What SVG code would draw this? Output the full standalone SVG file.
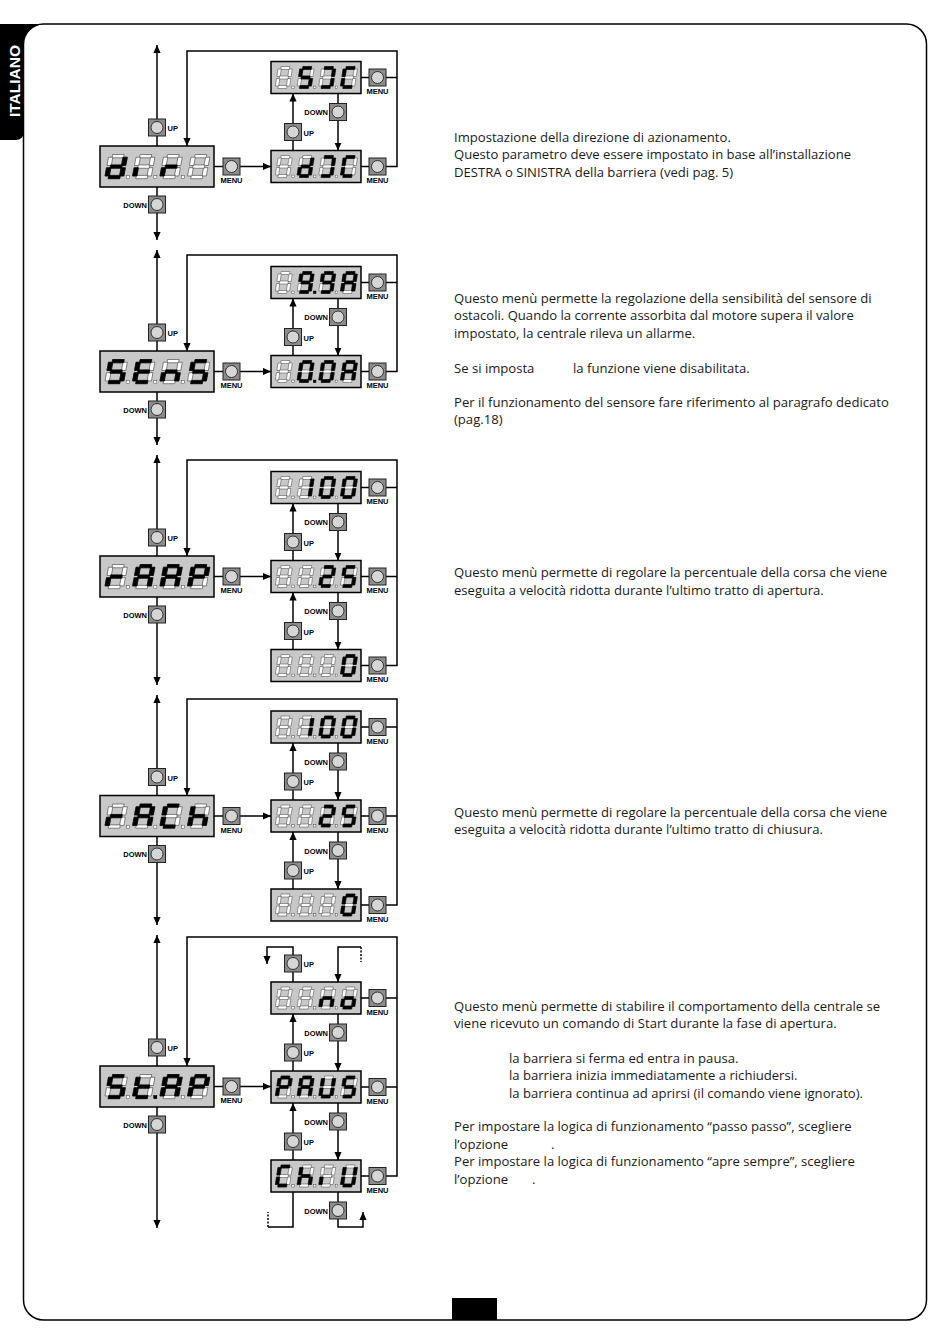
<svg xmlns="http://www.w3.org/2000/svg" xmlns:xlink="http://www.w3.org/1999/xlink" width="950" height="1344" viewBox="0 0 950 1344">
<style>
.ln{fill:none;stroke:#000;stroke-width:1.5}
.ar{fill:none;stroke:#000;stroke-width:1.5;marker-end:url(#ah)}
.ds{fill:none;stroke:#000;stroke-width:1.5;stroke-dasharray:2 1.5}
.disp{fill:#c8c8c8;stroke:#000;stroke-width:1.5}
.bt{fill:#8c8c8c;stroke:#222;stroke-width:1}
.bc{fill:#d6d6d6;stroke:#222;stroke-width:.9}
.lb{font-family:"Liberation Sans",Arial,sans-serif;font-weight:bold;font-size:7.5px;fill:#000}
.mn{text-anchor:middle}
.dn{text-anchor:end}
.tx{font-family:"Open Sans","Liberation Sans",sans-serif;font-size:13.1px;fill:#1a1a1a}
.off{fill:#fff;stroke:#4a4a4a;stroke-width:.5}
.on{fill:#000;stroke:#000;stroke-width:.5}
</style>
<defs>
<marker id="ah" markerUnits="userSpaceOnUse" markerWidth="8" markerHeight="8" viewBox="0 0 8 8" refX="8" refY="4" orient="auto"><path d="M0,0.4 L8,4 L0,7.6 z" fill="#000"/></marker>
<rect id="sa" x="2.5" y="0" width="8" height="3"/>
<rect id="sb" x="10" y="2.5" width="3" height="7.5"/>
<rect id="sc" x="10" y="12" width="3" height="7.5"/>
<rect id="sd" x="2.5" y="19" width="8" height="3"/>
<rect id="se" x="0" y="12" width="3" height="7.5"/>
<rect id="sf" x="0" y="2.5" width="3" height="7.5"/>
<rect id="sg" x="2.5" y="9.5" width="8" height="3"/>
<g id="blank"><use href="#sa" class="off"/><use href="#sb" class="off"/><use href="#sc" class="off"/><use href="#sd" class="off"/><use href="#se" class="off"/><use href="#sf" class="off"/><use href="#sg" class="off"/></g>
<g id="g_" transform="skewX(-8)"><use href="#blank"/></g>
<g id="gd" transform="skewX(-8)"><use href="#blank"/><use href="#sb" class="on"/><use href="#sc" class="on"/><use href="#sd" class="on"/><use href="#se" class="on"/><use href="#sg" class="on"/></g>
<g id="gi" transform="skewX(-8)"><use href="#blank"/><use href="#se" class="on"/></g>
<g id="gr" transform="skewX(-8)"><use href="#blank"/><use href="#se" class="on"/><use href="#sg" class="on"/></g>
<g id="gS" transform="skewX(-8)"><use href="#blank"/><use href="#sa" class="on"/><use href="#sf" class="on"/><use href="#sg" class="on"/><use href="#sc" class="on"/><use href="#sd" class="on"/></g>
<g id="gJ" transform="skewX(-8)"><use href="#blank"/><use href="#sa" class="on"/><use href="#sb" class="on"/><use href="#sc" class="on"/><use href="#sd" class="on"/></g>
<g id="gC" transform="skewX(-8)"><use href="#blank"/><use href="#sa" class="on"/><use href="#sd" class="on"/><use href="#se" class="on"/><use href="#sf" class="on"/></g>
<g id="g9" transform="skewX(-8)"><use href="#blank"/><use href="#sa" class="on"/><use href="#sb" class="on"/><use href="#sc" class="on"/><use href="#sd" class="on"/><use href="#sf" class="on"/><use href="#sg" class="on"/></g>
<g id="gA" transform="skewX(-8)"><use href="#blank"/><use href="#sa" class="on"/><use href="#sb" class="on"/><use href="#sc" class="on"/><use href="#se" class="on"/><use href="#sf" class="on"/><use href="#sg" class="on"/></g>
<g id="g0" transform="skewX(-8)"><use href="#blank"/><use href="#sa" class="on"/><use href="#sb" class="on"/><use href="#sc" class="on"/><use href="#sd" class="on"/><use href="#se" class="on"/><use href="#sf" class="on"/></g>
<g id="g1" transform="skewX(-8)"><use href="#blank"/><use href="#sb" class="on"/><use href="#sc" class="on"/></g>
<g id="g2" transform="skewX(-8)"><use href="#blank"/><use href="#sa" class="on"/><use href="#sb" class="on"/><use href="#sg" class="on"/><use href="#se" class="on"/><use href="#sd" class="on"/></g>
<g id="gP" transform="skewX(-8)"><use href="#blank"/><use href="#sa" class="on"/><use href="#sb" class="on"/><use href="#se" class="on"/><use href="#sf" class="on"/><use href="#sg" class="on"/></g>
<g id="gh" transform="skewX(-8)"><use href="#blank"/><use href="#sc" class="on"/><use href="#se" class="on"/><use href="#sf" class="on"/><use href="#sg" class="on"/></g>
<g id="gn" transform="skewX(-8)"><use href="#blank"/><use href="#sc" class="on"/><use href="#se" class="on"/><use href="#sg" class="on"/></g>
<g id="go" transform="skewX(-8)"><use href="#blank"/><use href="#sc" class="on"/><use href="#sd" class="on"/><use href="#se" class="on"/><use href="#sg" class="on"/></g>
<g id="gU" transform="skewX(-8)"><use href="#blank"/><use href="#sb" class="on"/><use href="#sc" class="on"/><use href="#sd" class="on"/><use href="#se" class="on"/><use href="#sf" class="on"/></g>
<g id="gt" transform="skewX(-8)"><use href="#blank"/><use href="#sd" class="on"/><use href="#se" class="on"/><use href="#sf" class="on"/><use href="#sg" class="on"/></g>
<g id="gE" transform="skewX(-8)"><use href="#blank"/><use href="#sa" class="on"/><use href="#sd" class="on"/><use href="#se" class="on"/><use href="#sf" class="on"/><use href="#sg" class="on"/></g>
<g id="btn"><rect class="bt" width="17" height="17"/><circle class="bc" cx="8.5" cy="8.5" r="6"/></g>
<g id="dots3L"><rect class="off" x="26.3" y="29.7" width="3" height="3"/><rect class="off" x="53.8" y="29.7" width="3" height="3"/><rect class="off" x="81.3" y="29.7" width="3" height="3"/></g>
<g id="dots3S"><rect class="off" x="20.8" y="24.6" width="2.4" height="2.4"/><rect class="off" x="42.5" y="24.6" width="2.4" height="2.4"/><rect class="off" x="64.2" y="24.6" width="2.4" height="2.4"/></g>
</defs>
<rect width="950" height="1344" fill="#fff"/>
<g id="page">
<rect x="23.5" y="24" width="903" height="1296" rx="20" ry="20" fill="none" stroke="#000" stroke-width="1.5"/>
<path d="M0,24 H43.5 A20,20 0 0 0 23.5,44 V132 Q23.5,140 15.5,140 H0 Z" fill="#000"/>
<text transform="translate(19.5,81) rotate(-90)" text-anchor="middle" font-family="Liberation Sans,Arial,sans-serif" font-weight="bold" font-size="15.5" fill="#fff">ITALIANO</text>
<rect x="452" y="1298" width="45" height="22" fill="#000"/>
</g>
<g id="connectors">
<path class="ar" d="M157,146 V45"/><path class="ar" d="M157,187 V240"/>
<path class="ln" d="M214,166.5 H223"/><path class="ar" d="M240,166.5 H271"/>
<path class="ar" d="M386,166.5 H397 V51 H187 V146"/><path class="ln" d="M386,77.5 H397"/>
<path class="ln" d="M361,77.5 H369 M361,166.5 H369"/>
<path class="ar" d="M293,150.5 V93.5"/><path class="ar" d="M338,93.5 V150.5"/>
<path class="ar" d="M157,351 V250"/><path class="ar" d="M157,392 V445"/>
<path class="ln" d="M214,371.5 H223"/><path class="ar" d="M240,371.5 H271"/>
<path class="ar" d="M386,371.5 H397 V255 H187 V351"/><path class="ln" d="M386,282.5 H397"/>
<path class="ln" d="M361,282.5 H369 M361,371.5 H369"/>
<path class="ar" d="M293,355.5 V298.5"/><path class="ar" d="M338,298.5 V355.5"/>
<path class="ar" d="M157,556 V455"/><path class="ar" d="M157,597 V685"/>
<path class="ln" d="M214,576.5 H223"/><path class="ar" d="M240,576.5 H271"/>
<path class="ar" d="M386,665.5 H397 V460 H187 V556"/><path class="ln" d="M386,487.5 H397 M386,576.5 H397"/>
<path class="ln" d="M361,487.5 H369 M361,576.5 H369 M361,665.5 H369"/>
<path class="ar" d="M293,560.5 V503.5"/><path class="ar" d="M338,503.5 V560.5"/>
<path class="ar" d="M293,649.5 V592.5"/><path class="ar" d="M338,592.5 V649.5"/>
<path class="ar" d="M157,795.5 V695"/><path class="ar" d="M157,836.5 V925"/>
<path class="ln" d="M214,816 H223"/><path class="ar" d="M240,816 H271"/>
<path class="ar" d="M386,905 H397 V699 H187 V795.5"/><path class="ln" d="M386,727 H397 M386,816 H397"/>
<path class="ln" d="M361,727 H369 M361,816 H369 M361,905 H369"/>
<path class="ar" d="M293,800 V743"/><path class="ar" d="M338,743 V800"/>
<path class="ar" d="M293,889 V832"/><path class="ar" d="M338,832 V889"/>
<path class="ar" d="M157,1066 V935"/><path class="ar" d="M157,1107 V1228"/>
<path class="ln" d="M214,1086.5 H223"/><path class="ar" d="M240,1086.5 H271"/>
<path class="ar" d="M386,1176 H397 V937 H187 V1066"/><path class="ln" d="M386,998 H397 M386,1087 H397"/>
<path class="ln" d="M361,998 H369 M361,1087 H369 M361,1176 H369"/>
<path class="ar" d="M293,1071 V1014"/><path class="ar" d="M338,1014 V1071"/>
<path class="ar" d="M293,1160 V1103"/><path class="ar" d="M338,1103 V1160"/>
<path class="ar" d="M293,955 V947 H267 V964"/><path class="ln" d="M293,972 V982"/>
<path class="ar" d="M361,947 H338 V982"/><path class="ds" d="M361,947 V962"/>
<path class="ln" d="M293,1192 V1227 H268"/><path class="ds" d="M268,1227 V1212"/>
<path class="ln" d="M338,1192 V1202"/><path class="ar" d="M338,1219 V1227 H363 V1212"/>
</g>

<g id="s1-main" transform="translate(100,146)"><rect class="disp" width="114" height="41"/><g transform="translate(0,8.5) scale(1.45,1.1)"><use href="#gd" x="6.2"/><use href="#gi" x="25.2"/><use href="#gr" x="44.1"/><use href="#g_" x="63.1"/></g><use href="#dots3L"/></g>
<g id="s1-r1" transform="translate(271,61.5)"><rect class="disp" width="90" height="32"/><g transform="translate(0,5) scale(1.1,1)"><use href="#g_" x="6.7"/><use href="#gS" x="26.5"/><use href="#gJ" x="46.2"/><use href="#gC" x="65.9"/></g><use href="#dots3S"/></g>
<g id="s1-r2" transform="translate(271,150.5)"><rect class="disp" width="90" height="32"/><g transform="translate(0,5) scale(1.1,1)"><use href="#g_" x="6.7"/><use href="#gd" x="26.5"/><use href="#gJ" x="46.2"/><use href="#gC" x="65.9"/></g><use href="#dots3S"/></g>
<g id="s1-up"><use href="#btn" x="148.5" y="119"/><text class="lb" x="167.5" y="131">UP</text></g>
<g id="s1-down"><use href="#btn" x="148.5" y="196"/><text class="lb dn" x="147" y="207.5">DOWN</text></g>
<g id="s1-menu"><use href="#btn" x="223" y="158"/><text class="lb mn" x="231.5" y="183">MENU</text></g>
<g id="s1-r1-menu"><use href="#btn" x="369" y="69"/><text class="lb mn" x="377.5" y="94">MENU</text></g>
<g id="s1-r2-menu"><use href="#btn" x="369" y="158"/><text class="lb mn" x="377.5" y="183">MENU</text></g>
<g id="s1-r-down"><use href="#btn" x="329.5" y="103.5"/><text class="lb dn" x="328" y="115">DOWN</text></g>
<g id="s1-r-up"><use href="#btn" x="284.5" y="123.5"/><text class="lb" x="303.5" y="135.5">UP</text></g>

<g id="s2-main" transform="translate(100,351)"><rect class="disp" width="114" height="41"/><g transform="translate(0,8.5) scale(1.45,1.1)"><use href="#gS" x="6.2"/><use href="#gE" x="25.2"/><use href="#gn" x="44.1"/><use href="#gS" x="63.1"/></g><use href="#dots3L"/></g>
<g id="s2-r1" transform="translate(271,266.5)"><rect class="disp" width="90" height="32"/><g transform="translate(0,5) scale(1.1,1)"><use href="#g_" x="6.7"/><use href="#g9" x="26.5"/><use href="#g9" x="46.2"/><use href="#gA" x="65.9"/></g><use href="#dots3S"/><rect class="on" x="42.5" y="24.6" width="2.4" height="2.4"/></g>
<g id="s2-r2" transform="translate(271,355.5)"><rect class="disp" width="90" height="32"/><g transform="translate(0,5) scale(1.1,1)"><use href="#g_" x="6.7"/><use href="#g0" x="26.5"/><use href="#g0" x="46.2"/><use href="#gA" x="65.9"/></g><use href="#dots3S"/><rect class="on" x="42.5" y="24.6" width="2.4" height="2.4"/></g>
<g id="s2-up"><use href="#btn" x="148.5" y="324"/><text class="lb" x="167.5" y="336">UP</text></g>
<g id="s2-down"><use href="#btn" x="148.5" y="401"/><text class="lb dn" x="147" y="412.5">DOWN</text></g>
<g id="s2-menu"><use href="#btn" x="223" y="363"/><text class="lb mn" x="231.5" y="388">MENU</text></g>
<g id="s2-r1-menu"><use href="#btn" x="369" y="274"/><text class="lb mn" x="377.5" y="299">MENU</text></g>
<g id="s2-r2-menu"><use href="#btn" x="369" y="363"/><text class="lb mn" x="377.5" y="388">MENU</text></g>
<g id="s2-r-down"><use href="#btn" x="329.5" y="308.5"/><text class="lb dn" x="328" y="320">DOWN</text></g>
<g id="s2-r-up"><use href="#btn" x="284.5" y="328.5"/><text class="lb" x="303.5" y="340.5">UP</text></g>

<g id="s3-main" transform="translate(100,556)"><rect class="disp" width="114" height="41"/><g transform="translate(0,8.5) scale(1.45,1.1)"><use href="#gr" x="6.2"/><use href="#gA" x="25.2"/><use href="#gA" x="44.1"/><use href="#gP" x="63.1"/></g><use href="#dots3L"/></g>
<g id="s3-r1" transform="translate(271,471.5)"><rect class="disp" width="90" height="32"/><g transform="translate(0,5) scale(1.1,1)"><use href="#g_" x="6.7"/><use href="#g1" x="26.5"/><use href="#g0" x="46.2"/><use href="#g0" x="65.9"/></g><use href="#dots3S"/></g>
<g id="s3-r2" transform="translate(271,560.5)"><rect class="disp" width="90" height="32"/><g transform="translate(0,5) scale(1.1,1)"><use href="#g_" x="6.7"/><use href="#g_" x="26.5"/><use href="#g2" x="46.2"/><use href="#gS" x="65.9"/></g><use href="#dots3S"/></g>
<g id="s3-r3" transform="translate(271,649.5)"><rect class="disp" width="90" height="32"/><g transform="translate(0,5) scale(1.1,1)"><use href="#g_" x="6.7"/><use href="#g_" x="26.5"/><use href="#g_" x="46.2"/><use href="#g0" x="65.9"/></g><use href="#dots3S"/></g>
<g id="s3-up"><use href="#btn" x="148.5" y="529"/><text class="lb" x="167.5" y="541">UP</text></g>
<g id="s3-down"><use href="#btn" x="148.5" y="606"/><text class="lb dn" x="147" y="617.5">DOWN</text></g>
<g id="s3-menu"><use href="#btn" x="223" y="568"/><text class="lb mn" x="231.5" y="593">MENU</text></g>
<g id="s3-r1-menu"><use href="#btn" x="369" y="479"/><text class="lb mn" x="377.5" y="504">MENU</text></g>
<g id="s3-r2-menu"><use href="#btn" x="369" y="568"/><text class="lb mn" x="377.5" y="593">MENU</text></g>
<g id="s3-r3-menu"><use href="#btn" x="369" y="657"/><text class="lb mn" x="377.5" y="682">MENU</text></g>
<g id="s3-r-down1"><use href="#btn" x="329.5" y="513.5"/><text class="lb dn" x="328" y="525">DOWN</text></g>
<g id="s3-r-up1"><use href="#btn" x="284.5" y="533.5"/><text class="lb" x="303.5" y="545.5">UP</text></g>
<g id="s3-r-down2"><use href="#btn" x="329.5" y="602.5"/><text class="lb dn" x="328" y="614">DOWN</text></g>
<g id="s3-r-up2"><use href="#btn" x="284.5" y="622.5"/><text class="lb" x="303.5" y="634.5">UP</text></g>

<g id="s4-main" transform="translate(100,795.5)"><rect class="disp" width="114" height="41"/><g transform="translate(0,8.5) scale(1.45,1.1)"><use href="#gr" x="6.2"/><use href="#gA" x="25.2"/><use href="#gC" x="44.1"/><use href="#gh" x="63.1"/></g><use href="#dots3L"/></g>
<g id="s4-r1" transform="translate(271,711)"><rect class="disp" width="90" height="32"/><g transform="translate(0,5) scale(1.1,1)"><use href="#g_" x="6.7"/><use href="#g1" x="26.5"/><use href="#g0" x="46.2"/><use href="#g0" x="65.9"/></g><use href="#dots3S"/></g>
<g id="s4-r2" transform="translate(271,800)"><rect class="disp" width="90" height="32"/><g transform="translate(0,5) scale(1.1,1)"><use href="#g_" x="6.7"/><use href="#g_" x="26.5"/><use href="#g2" x="46.2"/><use href="#gS" x="65.9"/></g><use href="#dots3S"/></g>
<g id="s4-r3" transform="translate(271,889)"><rect class="disp" width="90" height="32"/><g transform="translate(0,5) scale(1.1,1)"><use href="#g_" x="6.7"/><use href="#g_" x="26.5"/><use href="#g_" x="46.2"/><use href="#g0" x="65.9"/></g><use href="#dots3S"/></g>
<g id="s4-up"><use href="#btn" x="148.5" y="768.5"/><text class="lb" x="167.5" y="780.5">UP</text></g>
<g id="s4-down"><use href="#btn" x="148.5" y="845.5"/><text class="lb dn" x="147" y="857">DOWN</text></g>
<g id="s4-menu"><use href="#btn" x="223" y="807.5"/><text class="lb mn" x="231.5" y="832.5">MENU</text></g>
<g id="s4-r1-menu"><use href="#btn" x="369" y="718.5"/><text class="lb mn" x="377.5" y="743.5">MENU</text></g>
<g id="s4-r2-menu"><use href="#btn" x="369" y="807.5"/><text class="lb mn" x="377.5" y="832.5">MENU</text></g>
<g id="s4-r3-menu"><use href="#btn" x="369" y="896.5"/><text class="lb mn" x="377.5" y="921.5">MENU</text></g>
<g id="s4-r-down1"><use href="#btn" x="329.5" y="753"/><text class="lb dn" x="328" y="764.5">DOWN</text></g>
<g id="s4-r-up1"><use href="#btn" x="284.5" y="773"/><text class="lb" x="303.5" y="785">UP</text></g>
<g id="s4-r-down2"><use href="#btn" x="329.5" y="842"/><text class="lb dn" x="328" y="853.5">DOWN</text></g>
<g id="s4-r-up2"><use href="#btn" x="284.5" y="862"/><text class="lb" x="303.5" y="874">UP</text></g>

<g id="s5-main" transform="translate(100,1066)"><rect class="disp" width="114" height="41"/><g transform="translate(0,8.5) scale(1.45,1.1)"><use href="#gS" x="6.2"/><use href="#gt" x="25.2"/><use href="#gA" x="44.1"/><use href="#gP" x="63.1"/></g><use href="#dots3L"/><rect class="on" x="53.8" y="29.7" width="3" height="3"/></g>
<g id="s5-r1" transform="translate(271,982)"><rect class="disp" width="90" height="32"/><g transform="translate(0,5) scale(1.1,1)"><use href="#g_" x="6.7"/><use href="#g_" x="26.5"/><use href="#gn" x="46.2"/><use href="#go" x="65.9"/></g><use href="#dots3S"/></g>
<g id="s5-r2" transform="translate(271,1071)"><rect class="disp" width="90" height="32"/><g transform="translate(0,5) scale(1.1,1)"><use href="#gP" x="6.7"/><use href="#gA" x="26.5"/><use href="#gU" x="46.2"/><use href="#gS" x="65.9"/></g><use href="#dots3S"/></g>
<g id="s5-r3" transform="translate(271,1160)"><rect class="disp" width="90" height="32"/><g transform="translate(0,5) scale(1.1,1)"><use href="#gC" x="6.7"/><use href="#gh" x="26.5"/><use href="#gi" x="46.2"/><use href="#gU" x="65.9"/></g><use href="#dots3S"/></g>
<g id="s5-up"><use href="#btn" x="148.5" y="1039"/><text class="lb" x="167.5" y="1051">UP</text></g>
<g id="s5-down"><use href="#btn" x="148.5" y="1116"/><text class="lb dn" x="147" y="1127.5">DOWN</text></g>
<g id="s5-menu"><use href="#btn" x="223" y="1078"/><text class="lb mn" x="231.5" y="1103">MENU</text></g>
<g id="s5-r1-menu"><use href="#btn" x="369" y="989.5"/><text class="lb mn" x="377.5" y="1014.5">MENU</text></g>
<g id="s5-r2-menu"><use href="#btn" x="369" y="1078.5"/><text class="lb mn" x="377.5" y="1103.5">MENU</text></g>
<g id="s5-r3-menu"><use href="#btn" x="369" y="1167.5"/><text class="lb mn" x="377.5" y="1192.5">MENU</text></g>
<g id="s5-r-up0"><use href="#btn" x="284.5" y="955"/><text class="lb" x="303.5" y="967">UP</text></g>
<g id="s5-r-down1"><use href="#btn" x="329.5" y="1024"/><text class="lb dn" x="328" y="1035.5">DOWN</text></g>
<g id="s5-r-up1"><use href="#btn" x="284.5" y="1044"/><text class="lb" x="303.5" y="1056">UP</text></g>
<g id="s5-r-down2"><use href="#btn" x="329.5" y="1113"/><text class="lb dn" x="328" y="1124.5">DOWN</text></g>
<g id="s5-r-up2"><use href="#btn" x="284.5" y="1133"/><text class="lb" x="303.5" y="1145">UP</text></g>
<g id="s5-r-down3"><use href="#btn" x="329.5" y="1202"/><text class="lb dn" x="328" y="1213.5">DOWN</text></g>

<g id="texts" class="tx">
<text x="454" y="141.5">Impostazione della direzione di azionamento.</text>
<text x="454" y="159">Questo parametro deve essere impostato in base all’installazione</text>
<text x="454" y="176.5">DESTRA o SINISTRA della barriera (vedi pag. 5)</text>
<text x="454" y="302.5">Questo menù permette la regolazione della sensibilità del sensore di</text>
<text x="454" y="320">ostacoli. Quando la corrente assorbita dal motore supera il valore</text>
<text x="454" y="337.5">impostato, la centrale rileva un allarme.</text>
<text x="454" y="372.5">Se si imposta</text>
<text x="573" y="372.5">la funzione viene disabilitata.</text>
<text x="454" y="406.5">Per il funzionamento del sensore fare riferimento al paragrafo dedicato</text>
<text x="454" y="424">(pag.18)</text>
<text x="454" y="577">Questo menù permette di regolare la percentuale della corsa che viene</text>
<text x="454" y="594.5">eseguita a velocità ridotta durante l’ultimo tratto di apertura.</text>
<text x="454" y="816.5">Questo menù permette di regolare la percentuale della corsa che viene</text>
<text x="454" y="834">eseguita a velocità ridotta durante l’ultimo tratto di chiusura.</text>
<text x="454" y="1010.5">Questo menù permette di stabilire il comportamento della centrale se</text>
<text x="454" y="1028">viene ricevuto un comando di Start durante la fase di apertura.</text>
<text x="509" y="1062.5">la barriera si ferma ed entra in pausa.</text>
<text x="509" y="1080">la barriera inizia immediatamente a richiudersi.</text>
<text x="509" y="1097.5">la barriera continua ad aprirsi (il comando viene ignorato).</text>
<text x="454" y="1131">Per impostare la logica di funzionamento “passo passo”, scegliere</text>
<text x="454" y="1148.5">l’opzione</text>
<text x="551" y="1148.5">.</text>
<text x="454" y="1166">Per impostare la logica di funzionamento “apre sempre”, scegliere</text>
<text x="454" y="1183.5">l’opzione</text>
<text x="532" y="1183.5">.</text>
</g>
</svg>
